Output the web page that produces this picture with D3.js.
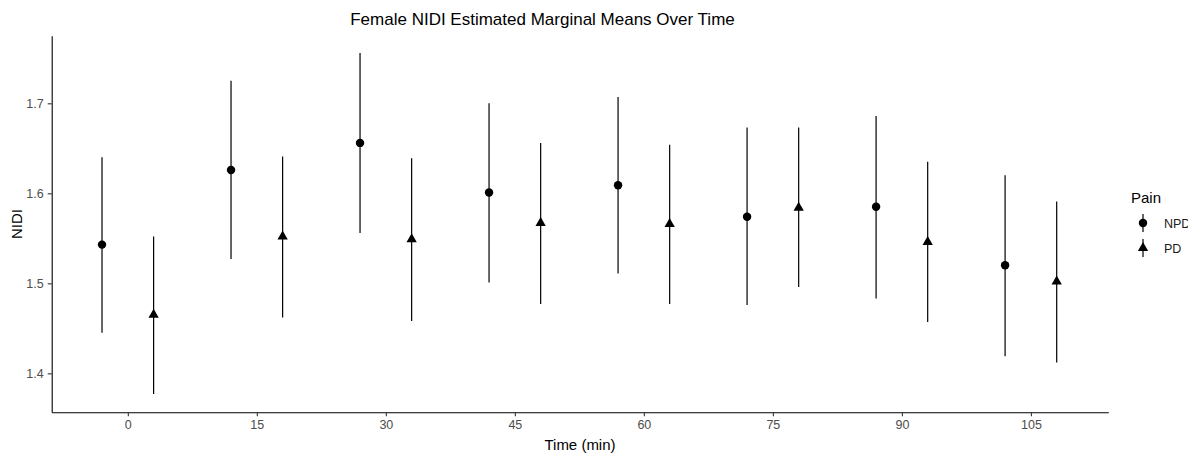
<!DOCTYPE html>
<html>
<head>
<meta charset="utf-8">
<script src="https://cdnjs.cloudflare.com/ajax/libs/d3/7.8.5/d3.min.js"></script>
<style>
  body { margin: 0; background: #fff; }
  svg { display: block; font-family: "Liberation Sans", Arial, sans-serif; }
</style>
</head>
<body>
<div id="chart"></div>
<script>
/*
*    emmeans plot: Female NIDI over time
*/

// ===== DATA =====
const times = [0, 15, 30, 45, 60, 75, 90, 105];
const groups = ["NPD", "PD"];

const npdMean  = [1.543, 1.626, 1.656, 1.601, 1.609, 1.574, 1.585, 1.520];
const npdLower = [1.445, 1.527, 1.556, 1.501, 1.511, 1.476, 1.483, 1.419];
const npdUpper = [1.640, 1.725, 1.756, 1.700, 1.707, 1.673, 1.686, 1.620];

const pdMean  = [1.465, 1.552, 1.549, 1.567, 1.566, 1.584, 1.546, 1.502];
const pdLower = [1.377, 1.462, 1.458, 1.477, 1.477, 1.496, 1.457, 1.412];
const pdUpper = [1.552, 1.641, 1.639, 1.656, 1.654, 1.673, 1.635, 1.591];

const xTicks = [0, 15, 30, 45, 60, 75, 90, 105];
const yTicks = [1.4, 1.5, 1.6, 1.7];

const titleText = "Female NIDI Estimated Marginal Means Over Time";

chart("#chart");

function chart(container) {

	const width = 1188;
	const height = 457;

	const margin = { left: 51.7, right: 79.7, top: 35.7, bottom: 44.7 };
	const innerWidth = width - margin.left - margin.right;
	const innerHeight = height - margin.top - margin.bottom;

	const svg = d3.select(container)
		.append("svg")
		.attr("width", width)
		.attr("height", height);

	const g = svg.append("g")
		.attr("transform", `translate(${margin.left}, ${margin.top})`);

	// dodge de los grupos
	const dodge = { NPD: -3, PD: 3 };

	const rows = [];
	times.forEach((t, i) => {
		rows.push({ time: t, group: "NPD", mean: npdMean[i], lo: npdLower[i], hi: npdUpper[i] });
		rows.push({ time: t, group: "PD", mean: pdMean[i], lo: pdLower[i], hi: pdUpper[i] });
	});

	// 🔹 Escalas
	const x = d3.scaleLinear()
		.domain([-8.85, 114.0])
		.range([0, innerWidth]);

	const y = d3.scaleLinear()
		.domain([1.3567, 1.7751])
		.range([innerHeight, 0]);

	const symbol = d3.scaleOrdinal()
		.domain(groups)
		.range([d3.symbolCircle, d3.symbolTriangle]);

	const symSize = { NPD: 56, PD: 46 };

	// 🔹 Axis X
	const xAxis = g.append("g")
		.attr("transform", `translate(0, ${innerHeight})`)
		.call(d3.axisBottom(x).tickValues(xTicks).tickSize(4).tickSizeOuter(0).tickPadding(4));

	// 🔹 Axis Y
	const yAxis = g.append("g")
		.call(d3.axisLeft(y).tickValues(yTicks).tickFormat(d3.format(".1f"))
			.tickSize(4).tickSizeOuter(0).tickPadding(4));

	[xAxis, yAxis].forEach(ax => {
		ax.select(".domain").attr("stroke", "#000").attr("stroke-width", 1.1);
		ax.selectAll(".tick line").attr("stroke", "#333").attr("stroke-width", 1.1);
		ax.selectAll(".tick text")
			.attr("fill", "#4d4d4d")
			.style("font-size", "12.5px");
	});

	// 🔹 Error bars
	g.append("g")
		.selectAll("line")
		.data(rows)
		.enter()
		.append("line")
		.attr("x1", d => x(d.time + dodge[d.group]))
		.attr("x2", d => x(d.time + dodge[d.group]))
		.attr("y1", d => y(d.lo))
		.attr("y2", d => y(d.hi))
		.attr("stroke", "#000")
		.attr("stroke-width", 1.2);

	// 🔹 Points
	g.append("g")
		.selectAll("path")
		.data(rows)
		.enter()
		.append("path")
		.attr("transform", d => `translate(${x(d.time + dodge[d.group])}, ${y(d.mean)})`)
		.attr("d", d => d3.symbol().type(symbol(d.group)).size(symSize[d.group])())
		.attr("fill", "#000");

	// 🔹 Labels
	svg.append("text")
		.attr("x", 542.5)
		.attr("y", 25)
		.attr("text-anchor", "middle")
		.style("font-size", "17px")
		.style("fill", "#000")
		.text(titleText);

	svg.append("text")
		.attr("x", margin.left + innerWidth / 2)
		.attr("y", 450)
		.attr("text-anchor", "middle")
		.style("font-size", "15px")
		.style("fill", "#000")
		.text("Time (min)");

	svg.append("text")
		.attr("transform", "rotate(-90)")
		.attr("x", -(margin.top + innerHeight / 2))
		.attr("y", 22)
		.attr("text-anchor", "middle")
		.style("font-size", "15px")
		.style("fill", "#000")
		.text("NIDI");

	// ===== LEGEND =====
	const legend = svg.append("g")
		.attr("transform", "translate(1131, 0)");

	legend.append("text")
		.attr("x", 0)
		.attr("y", 203)
		.style("font-size", "15px")
		.style("fill", "#000")
		.text("Pain");

	const legendItem = legend.selectAll(".legend-item")
		.data(groups)
		.enter()
		.append("g")
		.attr("class", "legend-item")
		.attr("transform", (d, i) => `translate(12, ${223 + i * 25})`);

	legendItem.append("line")
		.attr("y1", -9)
		.attr("y2", 9)
		.attr("stroke", "#000")
		.attr("stroke-width", 1.2);

	legendItem.append("path")
		.attr("d", d => d3.symbol().type(symbol(d)).size(symSize[d])())
		.attr("fill", "#000");

	legendItem.append("text")
		.attr("x", 21)
		.attr("y", 4.5)
		.style("font-size", "12.5px")
		.style("fill", "#1a1a1a")
		.text(d => d);
}
</script>
</body>
</html>
